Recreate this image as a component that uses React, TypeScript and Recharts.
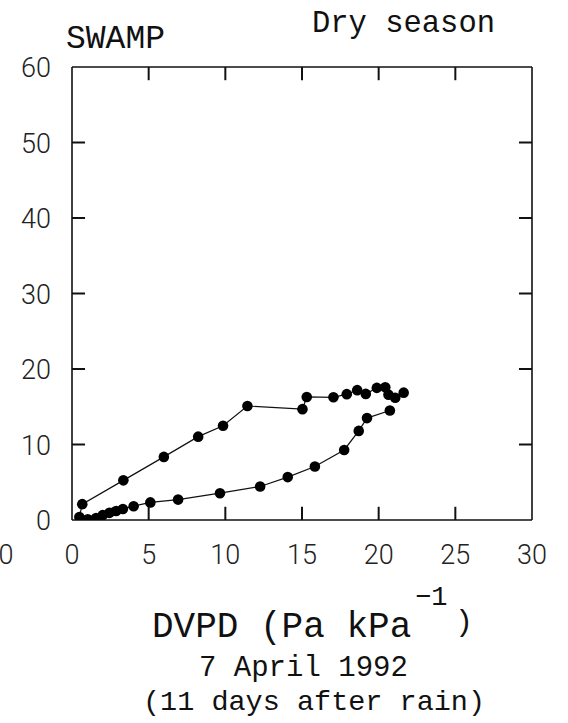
import React from "react";
import { ScatterChart, Scatter, XAxis, YAxis, ReferenceLine } from "recharts";

// DVPD (Pa kPa-1) on x, unlabelled response on y.
// lower branch, from the top right back down to the origin
const lowerDvpd = [20.73, 19.24, 18.7, 17.75, 15.84, 14.07, 12.27, 9.65, 6.92, 5.11, 4.02, 3.32, 2.88, 2.44, 2.0, 1.57, 1.03, 0.59, 0.48];
const lowerValue = [14.5, 13.5, 11.8, 9.28, 7.08, 5.68, 4.44, 3.55, 2.7, 2.33, 1.83, 1.45, 1.2, 0.95, 0.64, 0.26, 0.1, 0.03, 0.4];
// upper branch, from the origin out to the right
const upperDvpd = [0.67, 3.35, 5.99, 8.23, 9.85, 11.44, 15.03, 15.31, 17.05, 17.92, 18.6, 19.16, 19.88, 20.43, 20.64, 21.08, 21.63];
const upperValue = [2.1, 5.25, 8.36, 11.04, 12.49, 15.1, 14.68, 16.3, 16.25, 16.67, 17.2, 16.7, 17.5, 17.57, 16.6, 16.2, 16.87];

const xTicks = [0, 5, 10, 15, 20, 25, 30];
const yTicks = [0, 10, 20, 30, 40, 50, 60];

const points = [
  ...lowerDvpd.map((x, i) => ({ x, y: lowerValue[i] })),
  ...upperDvpd.map((x, i) => ({ x, y: upperValue[i] })),
];

const tickFont = { fontFamily: "Roboto", fontWeight: 300, fontSize: 27, fill: "#222" };
const lineStyle = { stroke: "#111", strokeWidth: 1.6 };
const tickStyle = { stroke: "#111", strokeWidth: 2 };
const mono = "'Liberation Mono', monospace";

// inward tick length, in axis units (about 13px on each axis)
const xTickLen = 0.85;
const yTickLen = 1.75;

const Dot = (props: any) => <circle cx={props.cx} cy={props.cy} r={5.3} fill="#000" />;

const BottomLabel = ({ x, y, payload }: any) => (
  <text x={x} y={y + 44} textAnchor="middle" {...tickFont}>{payload.value}</text>
);
const LeftLabel = ({ x, y, payload }: any) => (
  <text x={x - 21} y={y + 10} textAnchor="end" {...tickFont}>{payload.value}</text>
);

const common = { type: "number" as const, allowDataOverflow: true, tickSize: 0, tickMargin: 0, tickLine: false };

export default function App() {
  const innerX = xTicks.slice(1, -1);
  const innerY = yTicks.slice(1, -1);
  return (
    <div style={{ position: "absolute", left: 0, top: 0, width: 568, height: 723, background: "#fff" }}>
      {/* axes need a size of at least 1px or recharts skips them */}
      <ScatterChart width={568} height={723} margin={{ top: 66, right: 35, bottom: 202, left: 71 }}>
        <XAxis xAxisId="bottom" dataKey="x" domain={[0, 30]} ticks={xTicks} height={1} {...common}
          tick={<BottomLabel />} axisLine={lineStyle} />
        <XAxis xAxisId="top" orientation="top" domain={[0, 30]} ticks={xTicks} height={1} {...common}
          tick={false} axisLine={lineStyle} />
        <YAxis yAxisId="left" dataKey="y" domain={[0, 60]} ticks={yTicks} width={1} {...common}
          tick={<LeftLabel />} axisLine={lineStyle} />
        <YAxis yAxisId="right" orientation="right" domain={[0, 60]} ticks={yTicks} width={1} {...common}
          tick={false} axisLine={lineStyle} />
        {innerX.map((t) => (
          <ReferenceLine key={`b${t}`} xAxisId="bottom" yAxisId="left" segment={[{ x: t, y: 0 }, { x: t, y: yTickLen }]} {...tickStyle} />
        ))}
        {innerX.map((t) => (
          <ReferenceLine key={`t${t}`} xAxisId="bottom" yAxisId="left" segment={[{ x: t, y: 60 }, { x: t, y: 60 - yTickLen }]} {...tickStyle} />
        ))}
        {innerY.map((t) => (
          <ReferenceLine key={`l${t}`} xAxisId="bottom" yAxisId="left" segment={[{ x: 0, y: t }, { x: xTickLen, y: t }]} {...tickStyle} />
        ))}
        {innerY.map((t) => (
          <ReferenceLine key={`r${t}`} xAxisId="bottom" yAxisId="left" segment={[{ x: 30, y: t }, { x: 30 - xTickLen, y: t }]} {...tickStyle} />
        ))}
        <Scatter
          xAxisId="bottom"
          yAxisId="left"
          data={points}
          line={{ stroke: "#111", strokeWidth: 1.2 }}
          shape={Dot}
          isAnimationActive={false}
        />
      </ScatterChart>
      <svg width={568} height={723} style={{ position: "absolute", left: 0, top: 0, pointerEvents: "none" }}>
        <text x={66} y={48} fontFamily={mono} fontSize={33} fill="#111">SWAMP</text>
        <text x={312} y={32} fontFamily={mono} fontSize={30.5} fill="#111">Dry season</text>
        <text x={6} y={564} textAnchor="middle" {...tickFont}>0</text>
        <text x={152} y={637} fontFamily={mono} fontSize={36} fill="#111">DVPD (Pa kPa</text>
        <text x={415} y={605} fontFamily={mono} fontSize={27} fill="#111">−1</text>
        <text x={455} y={631} fontFamily={mono} fontSize={30} fill="#111">)</text>
        <text x={199} y={676} fontFamily={mono} fontSize={29} fill="#111">7 April 1992</text>
        <text x={143} y={710} fontFamily={mono} fontSize={28.5} fill="#111">(11 days after rain)</text>
      </svg>
    </div>
  );
}
